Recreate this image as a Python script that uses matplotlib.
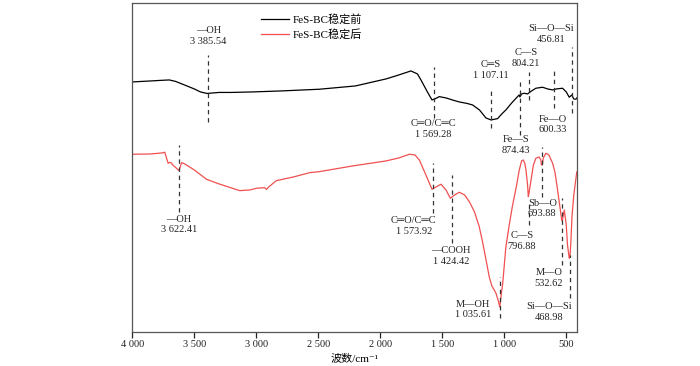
import matplotlib
matplotlib.use("Agg")
import matplotlib.pyplot as plt
from matplotlib.ticker import FixedLocator, FuncFormatter

plt.rcParams['font.family'] = ['Liberation Serif', 'Noto Sans CJK SC', 'DejaVu Sans']

# ---- data (wavenumber, relative transmittance) ----
wn_before = [4000, 3850, 3780, 3702, 3650, 3600, 3550, 3500, 3450, 3398, 3300, 3200, 3032,
             2800, 2492, 2200, 1954, 1850,
             1753, 1700, 1672, 1620, 1583, 1560, 1524, 1470, 1419, 1363, 1300, 1256, 1200,
             1148, 1107, 1054, 1020, 987, 940, 893, 879, 874, 860, 839, 812, 780, 745, 691,
             650, 610, 580, 530, 500, 476, 455, 440, 422, 415]
t_before = [250, 251, 251.5, 252, 250.5, 248, 245.5, 243, 240, 238.5, 239.5, 239.5, 240,
            241, 242.7, 246, 253, 257,
            261, 258, 252, 240, 232, 233, 235.3, 234, 232, 230, 228.5, 227, 222,
            214, 212, 213.3, 218, 222, 229, 235.3, 237, 235, 238, 238.7, 238, 241, 243.7, 244.7,
            243, 242, 243, 243.7, 240, 234.7, 237, 233, 232.7, 234]

wn_after = [4000, 3850, 3760, 3738, 3711, 3700, 3684, 3674, 3644, 3623, 3603, 3577, 3500,
            3402, 3300, 3133, 3050, 2999, 2932, 2918, 2900, 2838, 2700, 2569, 2492, 2223,
            1954, 1850, 1766,
            1720, 1685, 1632, 1583, 1550, 1510, 1470, 1435, 1400, 1363, 1320, 1282, 1240,
            1202, 1175, 1150, 1121, 1100, 1081, 1067, 1050, 1036, 1025, 1013, 987, 960, 935,
            900, 879, 860, 847, 835, 825, 812, 806, 800, 784, 765, 745, 720, 705, 700, 693,
            685, 664, 640, 610, 590, 570, 550, 537, 532, 516, 500, 490, 476, 470, 462, 454,
            440, 422, 415]
t_after = [177.7, 178, 179, 179.7, 168.7, 169.5, 169, 167, 163.7, 161.3, 169.3, 168, 162,
           152.7, 148, 141.3, 142, 143.7, 144.3, 142.5, 145, 151.3, 155, 159.3, 160.3, 166,
           171, 174, 177.7,
           177, 172, 157, 142.7, 145, 147.7, 142, 133.7, 137, 139.7, 137, 130.3, 120,
           105.3, 90, 74, 55, 46, 42, 38.7, 32, 25, 37, 48, 85, 107, 125.3,
           147, 162, 171, 172, 169, 162, 147, 135.3, 139, 152, 167, 173.7, 175, 172, 167, 167,
           174, 178.7, 177, 168.7, 159, 142, 124, 112, 111, 122, 107, 87, 73.7, 75, 92, 115.3,
           136, 153.7, 160]

series_labels = ['FeS-BC稳定前', 'FeS-BC稳定后']
x_ticks = [4000, 3500, 3000, 2500, 2000, 1500, 1000, 500]

# annotations: label, peak wavenumber, dashed line top/bottom, text x, text centre y, align
ann_labels = ['—OH\n3 385.54', 'C═O/C═C\n1 569.28', 'C═S\n1 107.11', 'C—S\n804.21',
              'Si—O—Si\n456.81', 'Fe—O\n600.33', 'Fe—S\n874.43',
              '—OH\n3 622.41', 'C═O/C═C\n1 573.92', '—COOH\n1 424.42', 'M—OH\n1 035.61',
              'Sb—O\n693.88', 'C—S\n796.88', 'M—O\n532.62', 'Si—O—Si\n468.98']
ann_peaks = [3385.54, 1569.28, 1107.11, 804.21, 456.81, 600.33, 874.43,
             3622.41, 1573.92, 1424.42, 1035.61, 693.88, 796.88, 532.62, 468.98]
ann_line_top = [277, 265, 244, 260, 285, 264, 250, 187, 169, 157, 55, 185, 129, 134, 77]
ann_line_bot = [210, 214, 204, 232, 219, 224, 197, 120, 119, 89, 14, 135, 107, 67, 34]
ann_text_x = [3385.54, 1569.28, 1107.11, 827, 625, 611, 907,
              3622.41, 1730, 1432, 1106, 693.88, 856, 639, 639]
ann_text_y = [296, 203, 262, 274, 298, 207.5, 187, 107.5, 106, 76, 22.5, 123.5, 91, 54, 20]
ann_ha = ['center'] * 10 + ['right'] + ['center'] * 4

fig = plt.figure(figsize=(7, 3.66), dpi=100)
ax = fig.add_axes([0.189, 0.093, 0.635, 0.899])

ax.plot(wn_before, t_before, color='black', lw=0.9, label=series_labels[0])
ax.plot(wn_after, t_after, color='#f05050', lw=0.9, label=series_labels[1])

for lab, pk, y0, y1, tx, ty, ha in zip(ann_labels, ann_peaks, ann_line_top, ann_line_bot,
                                       ann_text_x, ann_text_y, ann_ha):
    ax.plot([pk, pk], [y1, y0], color='#333333', lw=0.9, ls=(0, (3.5, 3)))
    ax.text(tx, ty, lab, ha=ha, va='center', fontsize=7.5, linespacing=1.2,
            multialignment='center', color='#222222')

ax.set_xlim(4000, 415)
ax.set_ylim(0, 329)
ax.set_yticks([])
ax.xaxis.set_major_locator(FixedLocator(x_ticks))
ax.xaxis.set_major_formatter(FuncFormatter(
    lambda v, p: f"{int(v):,}".replace(',', ' ')))
ax.tick_params(axis='x', direction='out', length=4, width=0.9, labelsize=7.5,
               pad=2, colors='#222222')
for s in ax.spines.values():
    s.set_color('#555555')
    s.set_linewidth(0.9)

ax.set_xlabel('波数/cm⁻¹', fontsize=8, labelpad=3)

ax.legend(loc='upper left', bbox_to_anchor=(0.29, 0.965), frameon=False,
          fontsize=8, handlelength=2.5, handletextpad=0.3, labelspacing=0.3,
          borderpad=0, borderaxespad=0)

fig.savefig('out.png', dpi=100)
